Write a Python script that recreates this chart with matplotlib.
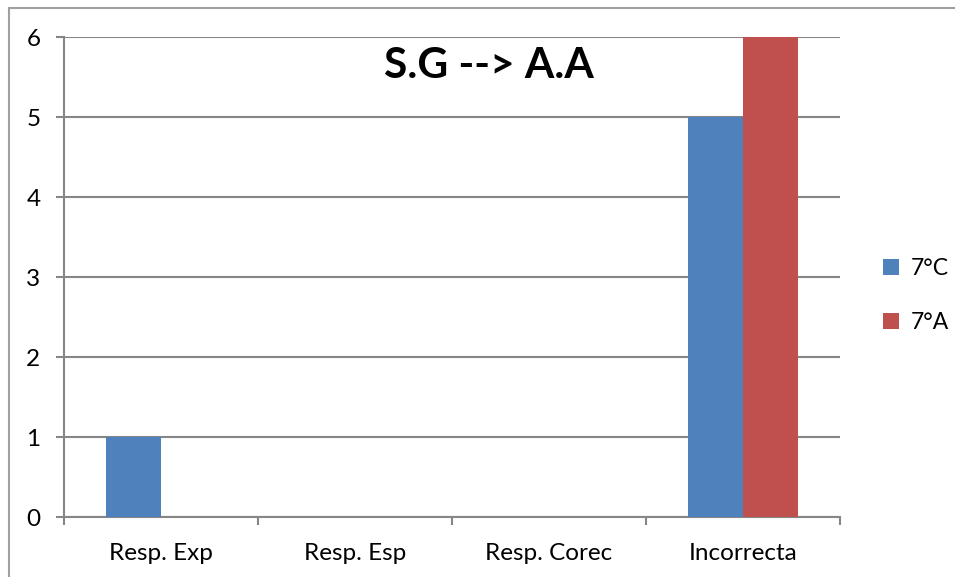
import matplotlib
matplotlib.use("Agg")
import matplotlib.pyplot as plt
from matplotlib.patches import Rectangle, Patch
import numpy as np

plt.rcParams['font.family'] = ['Lato', 'DejaVu Sans']

categories = ["Resp. Exp", "Resp. Esp", "Resp. Corec", "Incorrecta"]
series_names = ["7°C", "7°A"]
values_7c = [1, 0, 0, 5]
values_7a = [0, 0, 0, 6]
title = "S.G --> A.A"
y_ticks = [0, 1, 2, 3, 4, 5, 6]

colors = ["#4F81BD", "#C0504D"]
grid_color = "#868686"

fig = plt.figure(figsize=(9.55, 5.77), dpi=100)
ax = fig.add_axes([64/955, 1 - 517/577, (840 - 64)/955, (517 - 37)/577])

x = np.arange(len(categories))
bw = 1 / 3.5
ax.bar(x - bw/2, values_7c, width=bw, color=colors[0], zorder=3)
ax.bar(x + bw/2, values_7a, width=bw, color=colors[1], zorder=3)

ax.set_xlim(-0.5, len(categories) - 0.5)
ax.set_ylim(0, 6)
ax.set_yticks(y_ticks)
ax.yaxis.grid(True, color=grid_color, linewidth=1.5, zorder=0)
ax.set_axisbelow(True)

for s in ["top", "right"]:
    ax.spines[s].set_visible(False)
for s in ["left", "bottom"]:
    ax.spines[s].set_color(grid_color)
    ax.spines[s].set_linewidth(1.5)

ax.tick_params(axis='y', length=6, width=1.5, color=grid_color, labelsize=17.5, pad=11)
ax.set_xticks(x)
ax.set_xticklabels(categories)
ax.tick_params(axis='x', which='major', length=0, labelsize=17.5, pad=19)
ax.set_xticks(np.arange(-0.5, len(categories)), minor=True)
ax.tick_params(axis='x', which='minor', length=6, width=1.5, color=grid_color)

ax.text(0.548, 0.94, title, transform=ax.transAxes, ha='center', va='center',
        fontsize=30.5, fontweight='bold')

handles = [Patch(facecolor=c, edgecolor='none') for c in colors]
fig.legend(handles, series_names, loc='center left', bbox_to_anchor=(0.908, 0.488),
           frameon=False, fontsize=16.5, handlelength=0.7, handleheight=0.7,
           handletextpad=0.5, labelspacing=1.45, borderpad=0.2)

fig.add_artist(Rectangle((9/955, -0.05), 1.1, 1 - 8/577 + 0.05, transform=fig.transFigure,
                         fill=False, edgecolor="#a0a0a0", linewidth=1.5))

fig.savefig("out.png", dpi=100)
